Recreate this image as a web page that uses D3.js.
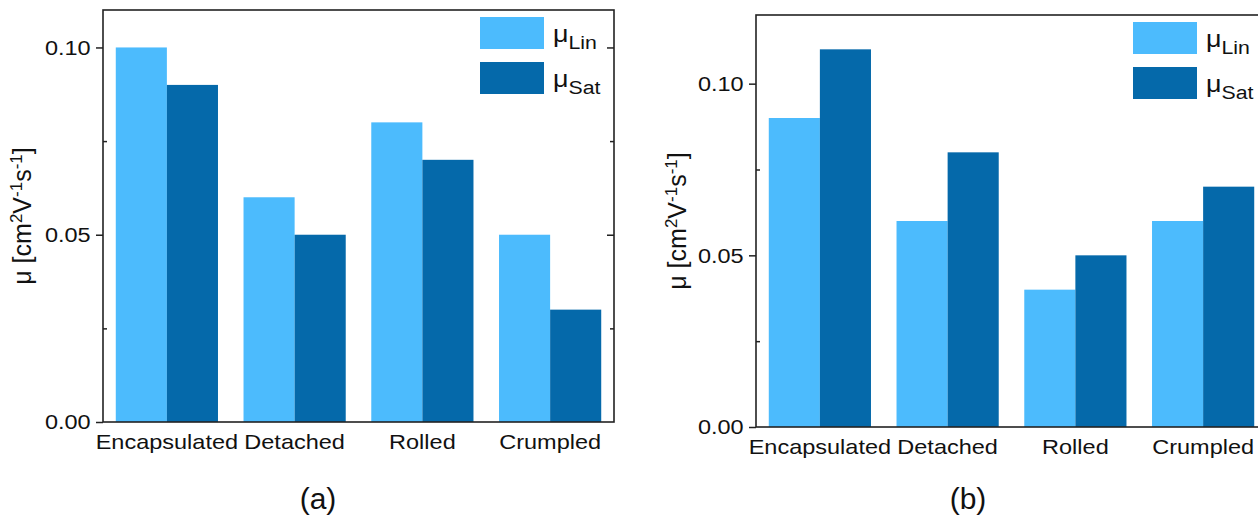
<!DOCTYPE html>
<html>
<head>
<meta charset="utf-8">
<script src="https://cdn.jsdelivr.net/npm/d3@7"></script>
<style>
  body { margin: 0; background: #fff; }
  svg { display: block; }
  text { font-family: "Liberation Sans", Arial, sans-serif; fill: #111; }
</style>
</head>
<body>
<div id="chart"></div>
<script>
// data
const categories = ['Encapsulated', 'Detached', 'Rolled', 'Crumpled'];
const seriesKeys = ['Lin', 'Sat'];
const linA = [0.10, 0.06, 0.08, 0.05];
const satA = [0.09, 0.05, 0.07, 0.03];
const linB = [0.09, 0.06, 0.04, 0.06];
const satB = [0.11, 0.08, 0.05, 0.07];
const majorTicks = [0, 0.05, 0.10];
const minorTicks = [0.025, 0.075];
const panelLabels = ['(a)', '(b)'];

const colors = { Lin: '#4cbbfd', Sat: '#0569aa' };
const sx = 1.12; // the source figure is a bit stretched sideways

const svg = d3.select('#chart').append('svg')
  .attr('width', 1258)
  .attr('height', 521);

function drawPanel(p) {
  const g = svg.append('g').attr('transform', `translate(${p.left},${p.top})`);
  const w = p.width, h = p.height;

  const x = d3.scaleBand().domain(categories).range([0, w]).paddingInner(0.2).paddingOuter(0.1);
  const xs = d3.scaleBand().domain(seriesKeys).range([0, x.bandwidth()]);
  const y = d3.scaleLinear().domain([0, p.ymax]).range([h, 0]);

  const rows = categories.map((c, i) => ({ cat: c, Lin: p.lin[i], Sat: p.sat[i] }));

  // bars
  g.append('g').selectAll('g')
    .data(rows)
    .join('g')
    .attr('transform', d => `translate(${x(d.cat)},0)`)
    .selectAll('rect')
    .data(d => seriesKeys.map(k => ({ key: k, value: d[k] })))
    .join('rect')
    .attr('x', d => xs(d.key))
    .attr('width', xs.bandwidth())
    .attr('y', d => y(d.value))
    .attr('height', d => h - y(d.value))
    .attr('fill', d => colors[d.key]);

  // left axis, major ticks outside
  const yAxis = g.append('g')
    .call(d3.axisLeft(y).tickValues(majorTicks).tickSize(7).tickPadding(4).tickFormat(d3.format('.2f')));
  yAxis.select('.domain').remove();
  yAxis.selectAll('line').attr('stroke', '#222').attr('stroke-width', 1.5);
  yAxis.selectAll('text')
    .attr('font-size', 21)
    .attr('font-family', '"Liberation Sans", Arial, sans-serif')
    .attr('fill', '#111')
    .attr('transform', `scale(${sx},1)`);

  // minor ticks, inside
  const yMinor = g.append('g')
    .call(d3.axisLeft(y).tickValues(minorTicks).tickSize(-4).tickFormat(''));
  yMinor.select('.domain').remove();
  yMinor.selectAll('line').attr('stroke', '#222').attr('stroke-width', 1.5);

  // right side ticks, all inside
  const yRight = g.append('g').attr('transform', `translate(${w},0)`)
    .call(d3.axisRight(y).tickValues(majorTicks.slice(1)).tickSize(-7).tickFormat(''));
  yRight.select('.domain').remove();
  yRight.selectAll('line').attr('stroke', '#222').attr('stroke-width', 1.5);
  const yRightMinor = g.append('g').attr('transform', `translate(${w},0)`)
    .call(d3.axisRight(y).tickValues(minorTicks).tickSize(-4).tickFormat(''));
  yRightMinor.select('.domain').remove();
  yRightMinor.selectAll('line').attr('stroke', '#222').attr('stroke-width', 1.5);

  // frame
  g.append('rect')
    .attr('width', w).attr('height', h)
    .attr('fill', 'none')
    .attr('stroke', '#222')
    .attr('stroke-width', 1.6);

  // category labels
  g.append('g').selectAll('text')
    .data(categories)
    .join('text')
    .attr('transform', d => `translate(${x(d) + x.bandwidth() / 2},${h + 27}) scale(${sx},1)`)
    .attr('text-anchor', 'middle')
    .attr('font-size', 21)
    .text(d => d);

  // y label
  const yl = g.append('text')
    .attr('transform', `translate(${p.ylabelX},${h / 2}) rotate(-90)`)
    .attr('text-anchor', 'middle')
    .attr('font-size', 25);
  yl.append('tspan').text('\u03bc [cm');
  yl.append('tspan').attr('dy', -9).attr('font-size', 17).text('2');
  yl.append('tspan').attr('dy', 9).text('V');
  yl.append('tspan').attr('dy', -9).attr('font-size', 17).text('-1');
  yl.append('tspan').attr('dy', 9).text('s');
  yl.append('tspan').attr('dy', -9).attr('font-size', 17).text('-1');
  yl.append('tspan').attr('dy', 9).text(']');

  // legend
  const leg = g.append('g').attr('transform', 'translate(377,7)')
    .selectAll('g')
    .data(seriesKeys)
    .join('g')
    .attr('transform', (d, i) => `translate(0,${i * 45})`);
  leg.append('rect')
    .attr('width', 64).attr('height', 32)
    .attr('fill', d => colors[d]);
  const lt = leg.append('text')
    .attr('transform', `translate(73,25) scale(${sx},1)`)
    .attr('font-size', 24);
  lt.append('tspan').text('\u03bc');
  lt.append('tspan').attr('dy', 7).attr('font-size', 19).text(d => d);

  // panel tag
  svg.append('text')
    .attr('x', p.tagX)
    .attr('y', 509)
    .attr('text-anchor', 'middle')
    .attr('font-family', 'Lato, "Open Sans", sans-serif')
    .attr('font-size', 30)
    .text(p.tag);
}

drawPanel({ left: 103, top: 10, width: 511, height: 412, ymax: 0.11,
  lin: linA, sat: satA, ylabelX: -72, tagX: 318, tag: panelLabels[0] });
drawPanel({ left: 756, top: 15, width: 511, height: 412, ymax: 0.12,
  lin: linB, sat: satB, ylabelX: -70, tagX: 968, tag: panelLabels[1] });
</script>
</body>
</html>
